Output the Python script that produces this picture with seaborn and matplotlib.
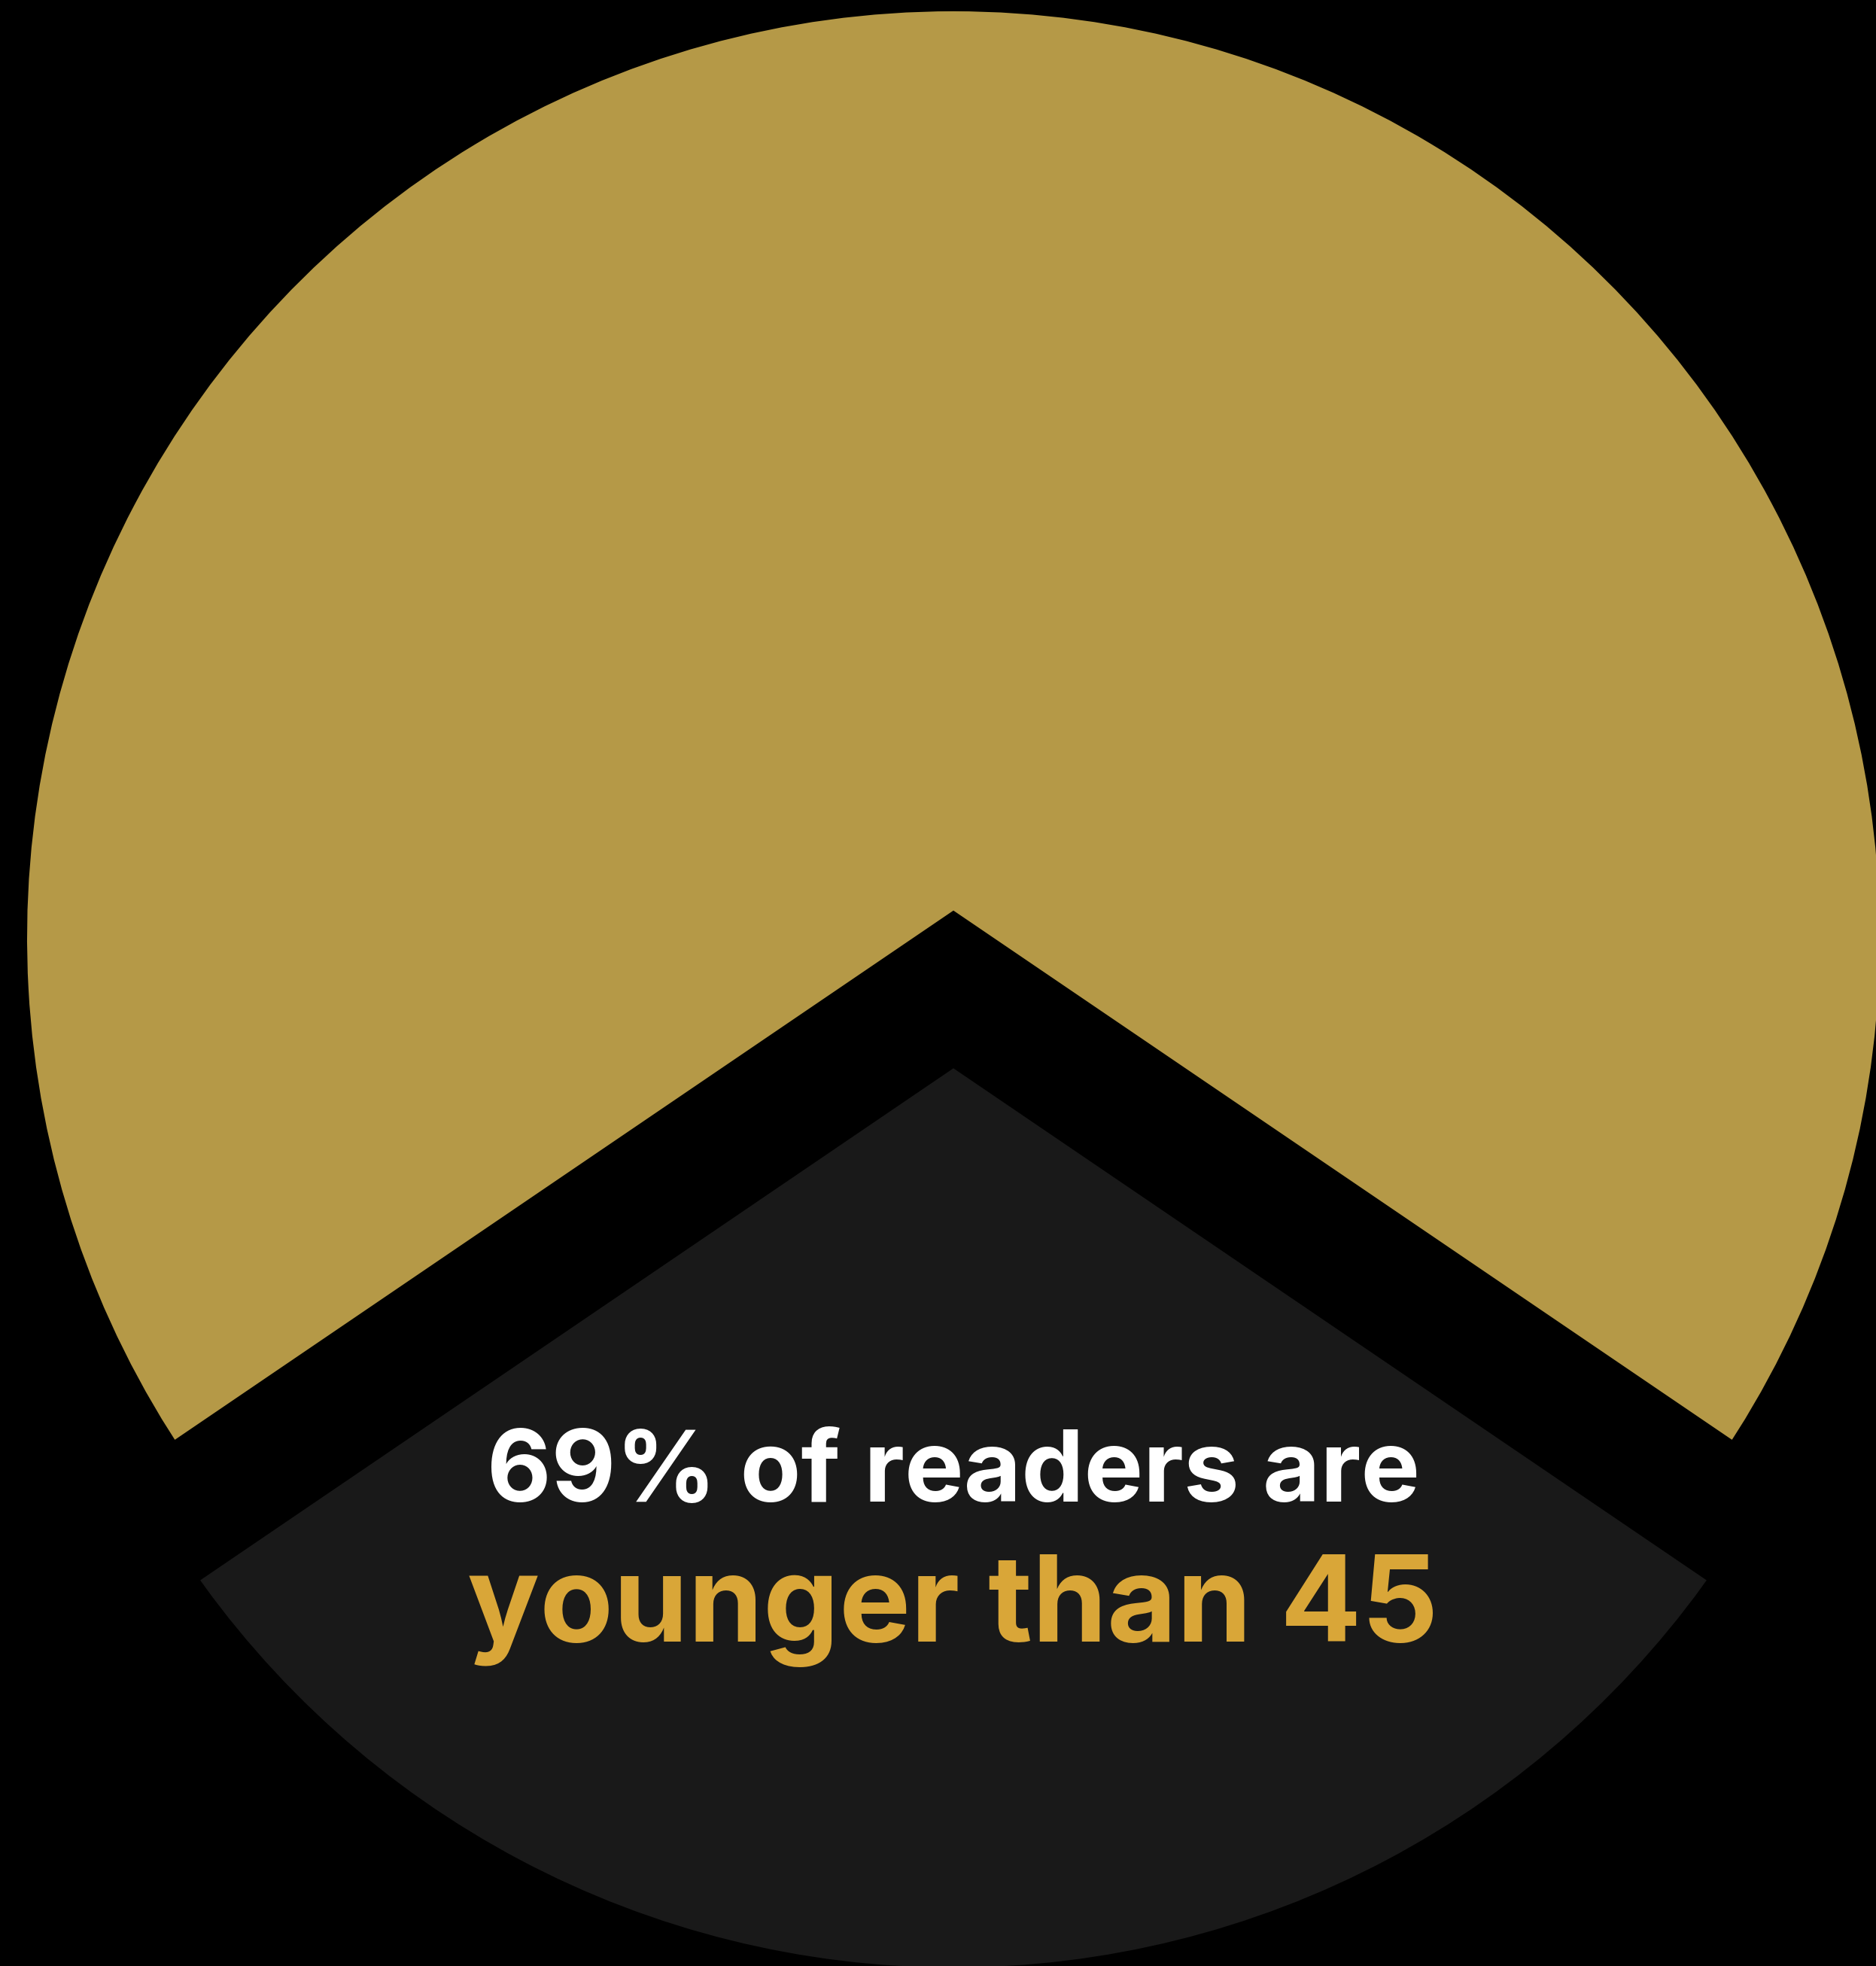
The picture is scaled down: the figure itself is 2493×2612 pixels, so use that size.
import pandas as pd
import seaborn as sns
import matplotlib.pyplot as plt

# DATA
segments = ['Younger than 45', '45 and older']
shares = [69, 31]
slice_colors = ['#B59947', '#191919']
headline = '69% of readers are'
highlight = 'younger than 45'

# STYLE
sns.set_theme(style='dark', rc={'figure.facecolor': 'black', 'axes.facecolor': 'black'})
plt.rcParams['font.family'] = ['Inter', 'DejaVu Sans']

W, H = 2493, 2612
fig = plt.figure(figsize=(W / 100, H / 100), dpi=100)
ax = fig.add_axes([0, 0, 1, 1])

df = pd.DataFrame({'segment': segments, 'share': shares})

# gold slice centred on the top, the rest hangs below
start = 90 - 360 * df['share'].iloc[0] / 100 / 2
ax.pie(
    df['share'],
    colors=slice_colors,
    startangle=start,
    center=(1267, 1297.5),
    radius=1261,
    explode=[68.5, 68.5],
    wedgeprops=dict(edgecolor='black', linewidth=43.2, joinstyle='miter'),
)
ax.set_xlim(0, W)
ax.set_ylim(0, H)
ax.set_aspect('auto')
ax.axis('off')

ax.text(1267, 617, headline, ha='center', va='baseline',
        fontsize=95, fontweight='bold', color='white')
ax.text(1266, 431, highlight, ha='center', va='baseline',
        fontsize=115, fontweight='bold', color='#D9A638')

fig.savefig('out.png', dpi=100, facecolor='black')
